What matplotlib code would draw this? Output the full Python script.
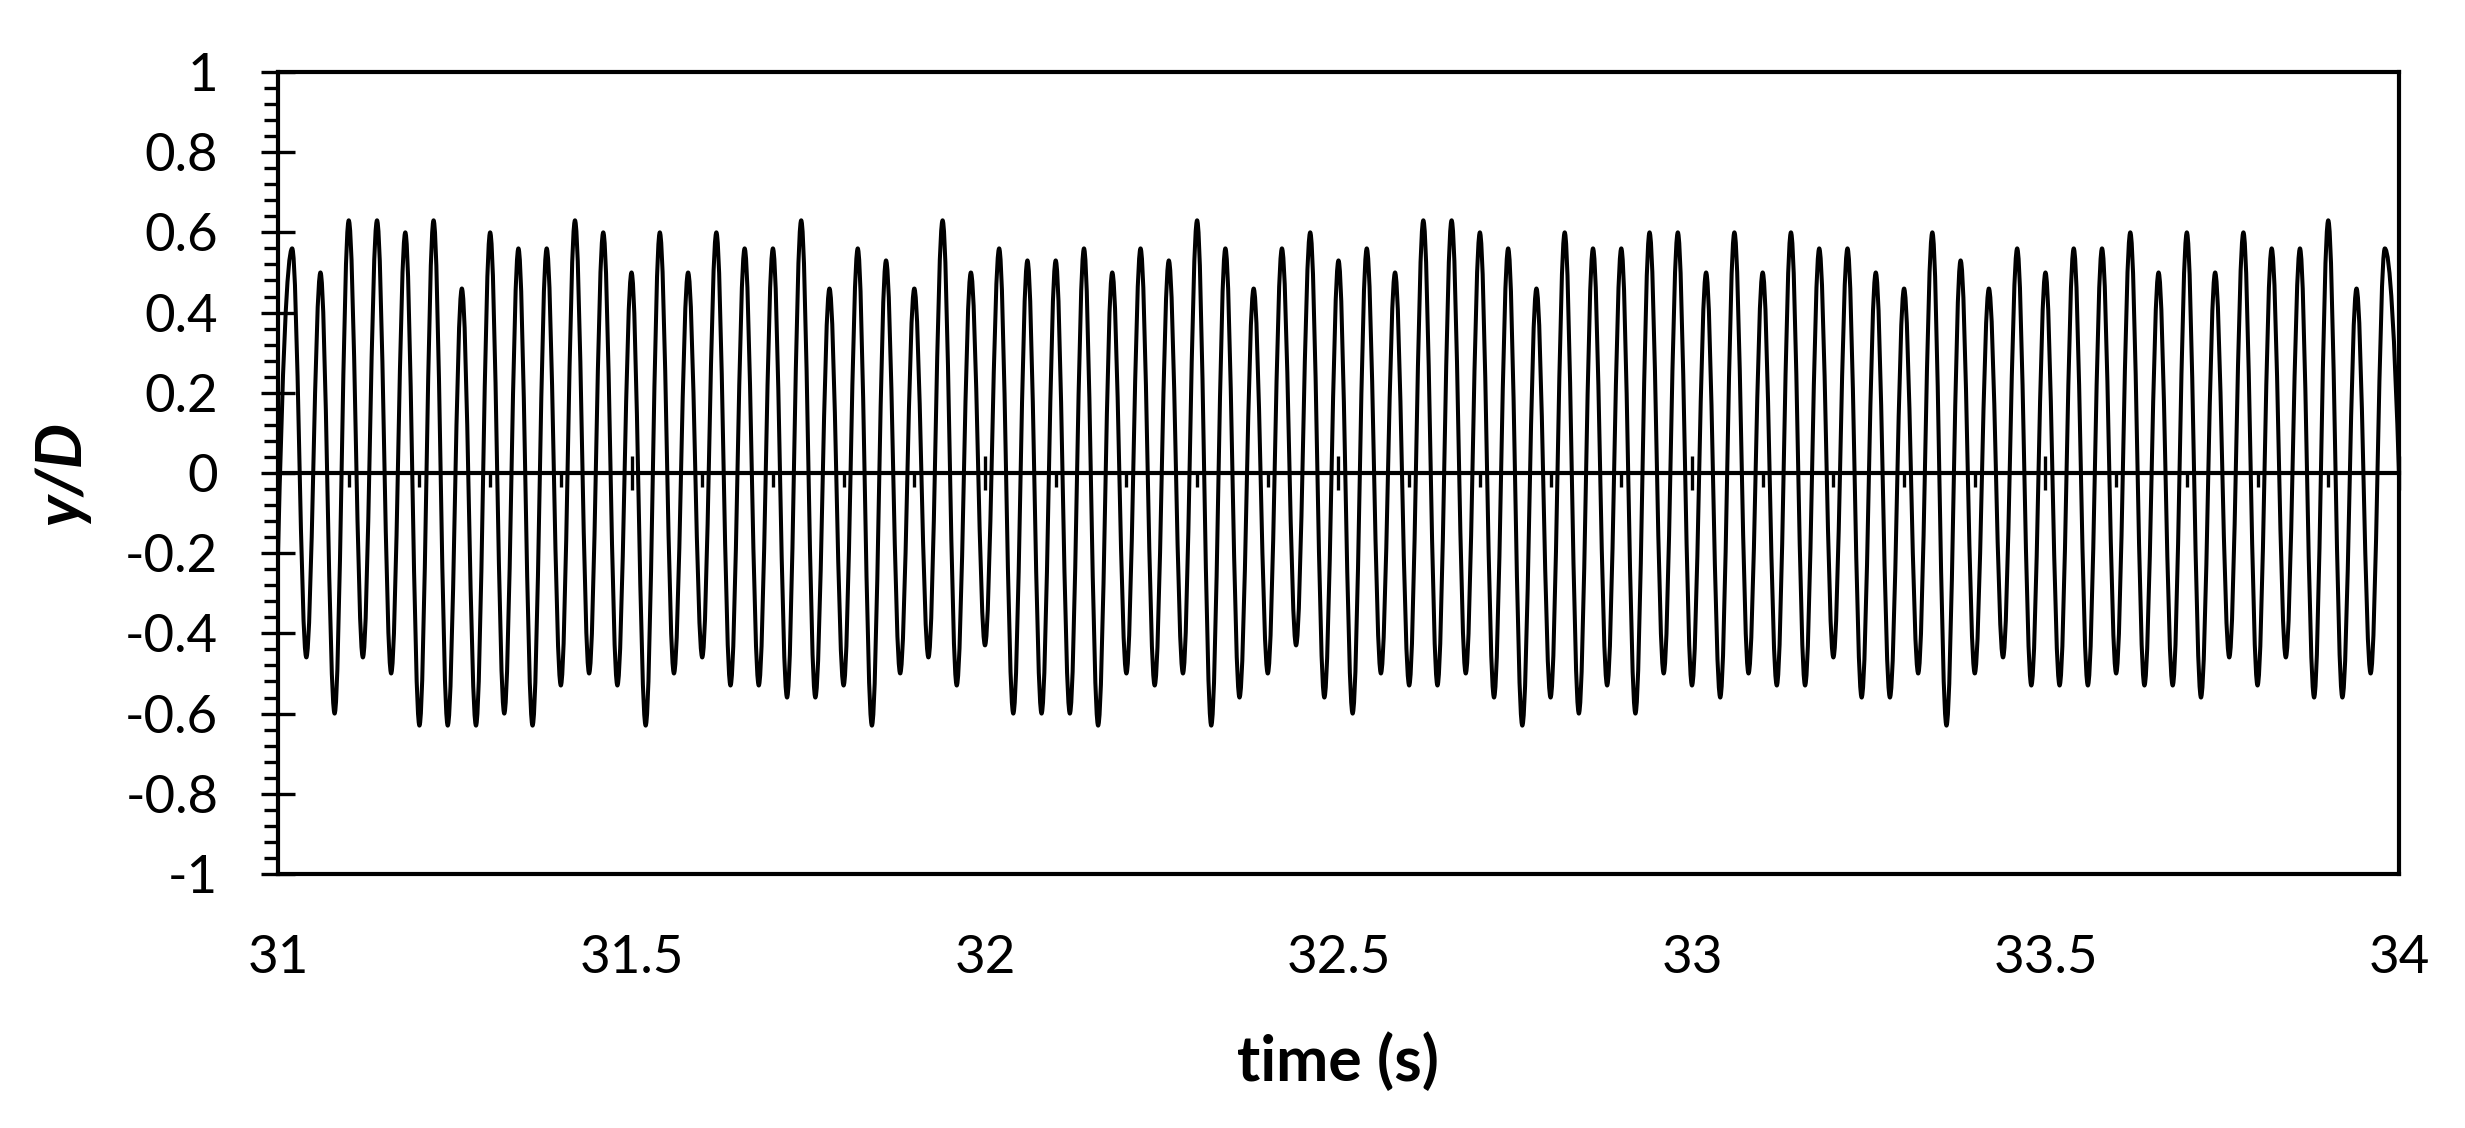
import numpy as np
import matplotlib
matplotlib.use("Agg")
import matplotlib.pyplot as plt
from matplotlib.path import Path
from matplotlib.patches import PathPatch
from matplotlib.ticker import MultipleLocator, FuncFormatter

plt.rcParams['font.family'] = ['Lato', 'DejaVu Sans']

# extrema (y/D), peaks every 0.04 s starting 31.02 s,
# troughs in between starting 31.04 s
peak_start, trough_start, period = 31.02, 31.04, 0.04
peak_y = [0.56, 0.50, 0.63, 0.63, 0.60, 0.63, 0.46, 0.60, 0.56, 0.56,
          0.63, 0.60, 0.50, 0.60, 0.50, 0.60, 0.56, 0.56, 0.63, 0.46,
          0.56, 0.53, 0.46, 0.63, 0.50, 0.56, 0.53, 0.53, 0.56, 0.50,
          0.56, 0.53, 0.63, 0.56, 0.46, 0.56, 0.60, 0.53, 0.56, 0.50,
          0.63, 0.63, 0.60, 0.56, 0.46, 0.60, 0.56, 0.56, 0.60, 0.60,
          0.50, 0.60, 0.50, 0.60, 0.56, 0.56, 0.50, 0.46, 0.60, 0.53,
          0.46, 0.56, 0.50, 0.56, 0.56, 0.60, 0.50, 0.60, 0.50, 0.60,
          0.56, 0.56, 0.63, 0.46, 0.56]
trough_y = [-0.46, -0.60, -0.46, -0.50, -0.63, -0.63, -0.63, -0.60, -0.63, -0.53,
            -0.50, -0.53, -0.63, -0.50, -0.46, -0.53, -0.53, -0.56, -0.56, -0.53,
            -0.63, -0.50, -0.46, -0.53, -0.43, -0.60, -0.60, -0.60, -0.63, -0.50,
            -0.53, -0.50, -0.63, -0.56, -0.50, -0.43, -0.56, -0.60, -0.50, -0.53,
            -0.53, -0.50, -0.56, -0.63, -0.56, -0.60, -0.53, -0.60, -0.50, -0.53,
            -0.56, -0.50, -0.53, -0.53, -0.46, -0.56, -0.56, -0.50, -0.63, -0.50,
            -0.46, -0.53, -0.53, -0.53, -0.50, -0.53, -0.53, -0.56, -0.46, -0.53,
            -0.46, -0.56, -0.56, -0.50]
start_pt = (31.0, -0.20)
end_pt = (34.0, 0.0)

x_ticks = [31, 31.5, 32, 32.5, 33, 33.5, 34]
y_ticks = [-1, -0.8, -0.6, -0.4, -0.2, 0, 0.2, 0.4, 0.6, 0.8, 1]

peak_t = peak_start + period * np.arange(len(peak_y))
trough_t = trough_start + period * np.arange(len(trough_y))

# alternate peak / trough
ext_t, ext_y = [], []
for i in range(len(peak_y)):
    ext_t.append(peak_t[i]); ext_y.append(peak_y[i])
    if i < len(trough_y):
        ext_t.append(trough_t[i]); ext_y.append(trough_y[i])

# smooth line through the extrema (cubic beziers, flat at each extremum)
c = 0.364
verts = [start_pt]
codes = [Path.MOVETO]
dt = ext_t[0] - start_pt[0]
verts += [(start_pt[0] + 0.3 * dt, start_pt[1] + 0.6 * (ext_y[0] - start_pt[1])),
          (ext_t[0] - c * dt, ext_y[0]), (ext_t[0], ext_y[0])]
codes += [Path.CURVE4] * 3
for i in range(len(ext_t) - 1):
    t0, y0, t1, y1 = ext_t[i], ext_y[i], ext_t[i + 1], ext_y[i + 1]
    dt = t1 - t0
    verts += [(t0 + c * dt, y0), (t1 - c * dt, y1), (t1, y1)]
    codes += [Path.CURVE4] * 3
dt = end_pt[0] - ext_t[-1]
verts += [(ext_t[-1] + c * dt, ext_y[-1]),
          (end_pt[0] - 0.3 * dt, end_pt[1] + 0.6 * (ext_y[-1] - end_pt[1])), end_pt]
codes += [Path.CURVE4] * 3

fig = plt.figure(figsize=(24.65, 11.28), dpi=100)
fig.subplots_adjust(left=0.1128, right=0.9732, bottom=0.2252, top=0.9362)
ax = fig.add_subplot(111)

ax.add_patch(PathPatch(Path(verts, codes), fill=False, edgecolor='black',
                       lw=2.9, joinstyle='round', capstyle='round', zorder=3))

ax.set_xlim(31, 34)
ax.set_ylim(-1, 1)

for s in ax.spines.values():
    s.set_linewidth(3.0)
    s.set_color('black')

fmt = FuncFormatter(lambda v, p: '%g' % v)
ax.set_xticks(x_ticks)
ax.set_yticks(y_ticks)
ax.xaxis.set_major_formatter(fmt)
ax.yaxis.set_major_formatter(fmt)
ax.yaxis.set_minor_locator(MultipleLocator(0.04))
ax.tick_params(axis='x', which='both', length=0, pad=44, labelsize=38)
ax.tick_params(axis='y', which='major', direction='inout', length=24, width=2.4,
               pad=31, labelsize=38)
ax.tick_params(axis='y', which='minor', direction='out', length=10, width=2.4)

# x axis crossing at y = 0 (ticks only, labels stay at the bottom)
sec = ax.secondary_xaxis(0, transform=ax.transData)
sec.spines['bottom'].set_linewidth(3.0)
sec.xaxis.set_major_locator(MultipleLocator(0.5))
sec.xaxis.set_minor_locator(MultipleLocator(0.1))
sec.tick_params(which='major', direction='inout', length=24, width=2.4, labelbottom=False)
sec.tick_params(which='minor', direction='out', length=10, width=2.4)

ax.set_xlabel('time (s)', fontsize=45, fontweight='bold')
ax.xaxis.set_label_coords(0.5, -0.197)
ax.set_ylabel('y/D', fontsize=46, fontweight='bold', fontstyle='italic')
ax.yaxis.set_label_coords(-0.0886, 0.5)

fig.savefig('out.png', dpi=100)
